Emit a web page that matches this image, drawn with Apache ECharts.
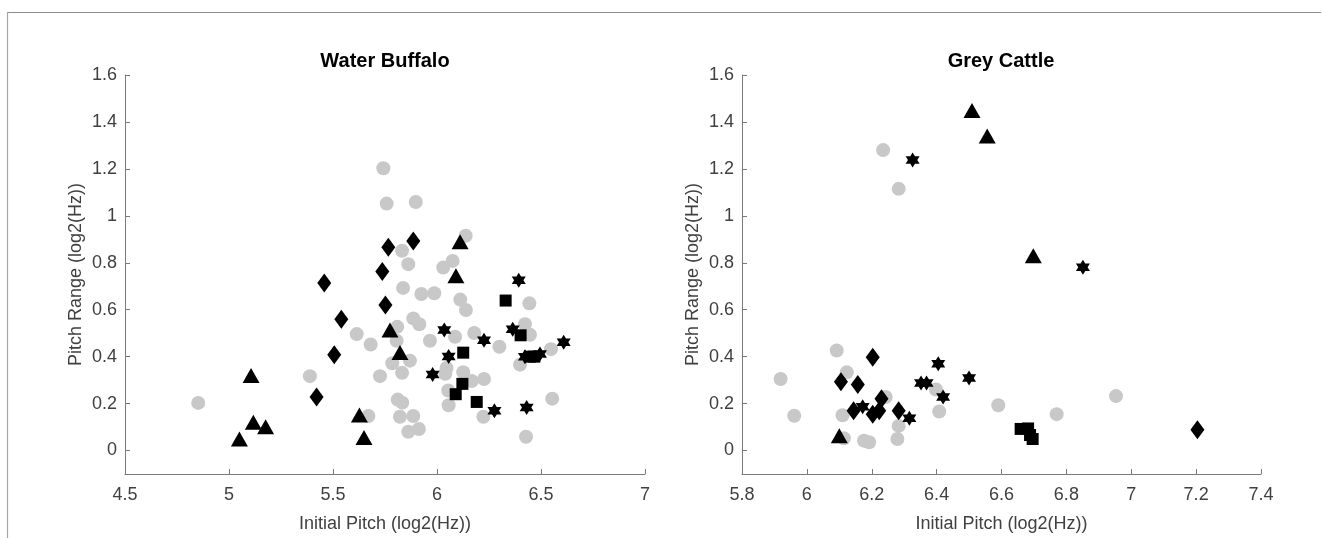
<!DOCTYPE html>
<html>
<head>
<meta charset="utf-8">
<script src="https://cdn.jsdelivr.net/npm/echarts@6/dist/echarts.min.js"></script>
<style>html,body{margin:0;padding:0;background:#fff;}#c{width:1322px;height:538px;}</style>
</head>
<body>
<div id="c"></div>
<script>
// ---------- Data ----------
const yTicks = [0, 0.2, 0.4, 0.6, 0.8, 1, 1.2, 1.4, 1.6];
const wbXTicks = [4.5, 5, 5.5, 6, 6.5, 7];
const gcXTicks = [5.8, 6, 6.2, 6.4, 6.6, 6.8, 7, 7.2, 7.4];

// Water Buffalo
const wbCircles = [
  [4.852,0.203],[5.742,1.203],[5.758,1.052],[5.898,1.059],[6.138,0.915],[5.832,0.851],
  [5.862,0.794],[6.030,0.780],[6.075,0.808],[5.837,0.693],[5.925,0.667],[5.987,0.670],
  [6.112,0.643],[6.139,0.599],[6.444,0.627],[5.886,0.563],[5.915,0.538],[5.614,0.496],
  [5.809,0.527],[6.087,0.485],[6.179,0.501],[6.423,0.538],[6.447,0.493],[5.681,0.452],
  [5.806,0.468],[5.966,0.468],[6.300,0.442],[6.548,0.432],[5.870,0.383],[5.785,0.372],
  [5.832,0.331],[5.726,0.317],[5.389,0.317],[5.670,0.147],[5.811,0.217],[5.833,0.204],
  [5.822,0.144],[5.886,0.147],[5.862,0.080],[5.913,0.092],[6.046,0.352],[6.040,0.327],
  [6.126,0.334],[6.167,0.296],[6.226,0.305],[6.054,0.256],[6.056,0.193],[6.223,0.144],
  [6.399,0.366],[6.554,0.221],[6.428,0.059]
];
const wbTriangles = [
  [5.106,0.320],[5.117,0.120],[5.176,0.101],[5.050,0.049],[5.627,0.151],
  [5.649,0.055],[5.774,0.514],[5.822,0.418],[6.091,0.745],[6.111,0.890]
];
const wbDiamonds = [
  [5.458,0.714],[5.540,0.559],[5.506,0.408],[5.421,0.228],
  [5.737,0.763],[5.752,0.620],[5.766,0.866],[5.886,0.893]
];
const wbSquares = [
  [6.330,0.639],[6.402,0.491],[6.126,0.417],[6.122,0.284],
  [6.090,0.240],[6.191,0.207],[6.447,0.400],[6.468,0.400]
];
const wbStars = [
  [6.393,0.725],[6.035,0.514],[6.226,0.470],[6.364,0.517],[6.609,0.461],[6.056,0.401],
  [5.979,0.324],[6.276,0.169],[6.423,0.400],[6.495,0.411],[6.431,0.183]
];

// Grey Cattle
const gcCircles = [
  [5.919,0.305],[5.961,0.148],[6.092,0.426],[6.123,0.333],[6.110,0.150],[6.243,0.228],
  [6.283,0.105],[6.279,0.049],[6.114,0.052],[6.176,0.042],[6.192,0.035],[6.398,0.260],
  [6.408,0.166],[6.590,0.193],[6.770,0.155],[6.953,0.232],[6.235,1.280],[6.283,1.115]
];
const gcTriangles = [[6.509,1.449],[6.556,1.340],[6.698,0.830],[6.100,0.063]];
const gcDiamonds = [
  [6.105,0.293],[6.157,0.281],[6.203,0.397],[6.144,0.169],[6.203,0.155],
  [6.223,0.169],[6.230,0.221],[6.283,0.169],[7.204,0.089]
];
const gcSquares = [[6.659,0.092],[6.682,0.094],[6.688,0.066],[6.696,0.049]];
const gcStars = [
  [6.326,1.238],[6.851,0.781],[6.172,0.187],[6.316,0.138],[6.352,0.288],
  [6.369,0.288],[6.405,0.370],[6.420,0.228],[6.500,0.309]
];

// ---------- Chart ----------
const FONT = '"Liberation Sans", Arial, sans-serif';
const AX = '#7a7a7a';
const TXT = '#404040';
const HEX = 'path://M0,-10L2.887,-5L8.66,-5L5.774,0L8.66,5L2.887,5L0,10L-2.887,5L-8.66,5L-5.774,0L-8.66,-5L-2.887,-5Z';
const fmt = v => String(parseFloat((+v).toFixed(2)));

function xAx(gi, min, max, ticks) {
  return {
    type: 'value', gridIndex: gi, min: min, max: max,
    name: 'Initial Pitch (log2(Hz))', nameLocation: 'middle', nameGap: 41,
    nameTextStyle: { fontFamily: FONT, fontSize: 18, color: TXT },
    axisLine: { show: true, onZero: false, lineStyle: { color: AX, width: 1 } },
    axisTick: { show: true, inside: true, length: 5, customValues: ticks, lineStyle: { color: AX } },
    axisLabel: { customValues: ticks, formatter: fmt, margin: 12, fontFamily: FONT, fontSize: 18, color: TXT },
    splitLine: { show: false }
  };
}
function yAx(gi) {
  return {
    type: 'value', gridIndex: gi, min: -0.1, max: 1.6,
    name: 'Pitch Range (log2(Hz))', nameLocation: 'middle', nameGap: 40, nameRotate: 90,
    nameTextStyle: { fontFamily: FONT, fontSize: 18, color: TXT },
    axisLine: { show: true, onZero: false, lineStyle: { color: AX, width: 1 } },
    axisTick: { show: true, inside: true, length: 5, customValues: yTicks, lineStyle: { color: AX } },
    axisLabel: { customValues: yTicks, formatter: fmt, margin: 8, fontFamily: FONT, fontSize: 18, color: TXT },
    splitLine: { show: false }
  };
}
function sc(gi, data, symbol, size, color) {
  return {
    type: 'scatter', xAxisIndex: gi, yAxisIndex: gi, data: data,
    symbol: symbol, symbolSize: size, silent: true,
    itemStyle: { color: color, opacity: 1 }
  };
}

const chart = echarts.init(document.getElementById('c'), null, { renderer: 'canvas' });
chart.setOption({
  animation: false,
  backgroundColor: '#ffffff',
  title: [
    { text: 'Water Buffalo', left: 385, top: 51, textAlign: 'center', padding: 0,
      textStyle: { fontFamily: FONT, fontSize: 20, fontWeight: 'bold', color: '#000' } },
    { text: 'Grey Cattle', left: 1001, top: 51, textAlign: 'center', padding: 0,
      textStyle: { fontFamily: FONT, fontSize: 20, fontWeight: 'bold', color: '#000' } }
  ],
  graphic: [
    { type: 'line', shape: { x1: 7, y1: 12.5, x2: 1321, y2: 12.5 }, style: { stroke: '#8c8c8c', lineWidth: 1.2 } },
    { type: 'line', shape: { x1: 7.5, y1: 12, x2: 7.5, y2: 538 }, style: { stroke: '#a8a8a8', lineWidth: 1.2 } }
  ],
  grid: [
    { left: 125, right: 677, top: 75, bottom: 61 },
    { left: 742, right: 61, top: 75, bottom: 61 }
  ],
  xAxis: [xAx(0, 4.5, 7, wbXTicks), xAx(1, 5.8, 7.4, gcXTicks)],
  yAxis: [yAx(0), yAx(1)],
  series: [
    sc(0, wbCircles, 'circle', 14, '#c8c8c8'),
    sc(0, wbTriangles, 'triangle', [17, 15], '#000'),
    sc(0, wbDiamonds, 'diamond', [14, 19], '#000'),
    sc(0, wbSquares, 'rect', [12, 12], '#000'),
    sc(0, wbStars, HEX, [14, 15], '#000'),
    sc(1, gcCircles, 'circle', 14, '#c8c8c8'),
    sc(1, gcTriangles, 'triangle', [17, 15], '#000'),
    sc(1, gcDiamonds, 'diamond', [14, 19], '#000'),
    sc(1, gcSquares, 'rect', [12, 12], '#000'),
    sc(1, gcStars, HEX, [14, 15], '#000')
  ]
});
</script>
</body>
</html>
